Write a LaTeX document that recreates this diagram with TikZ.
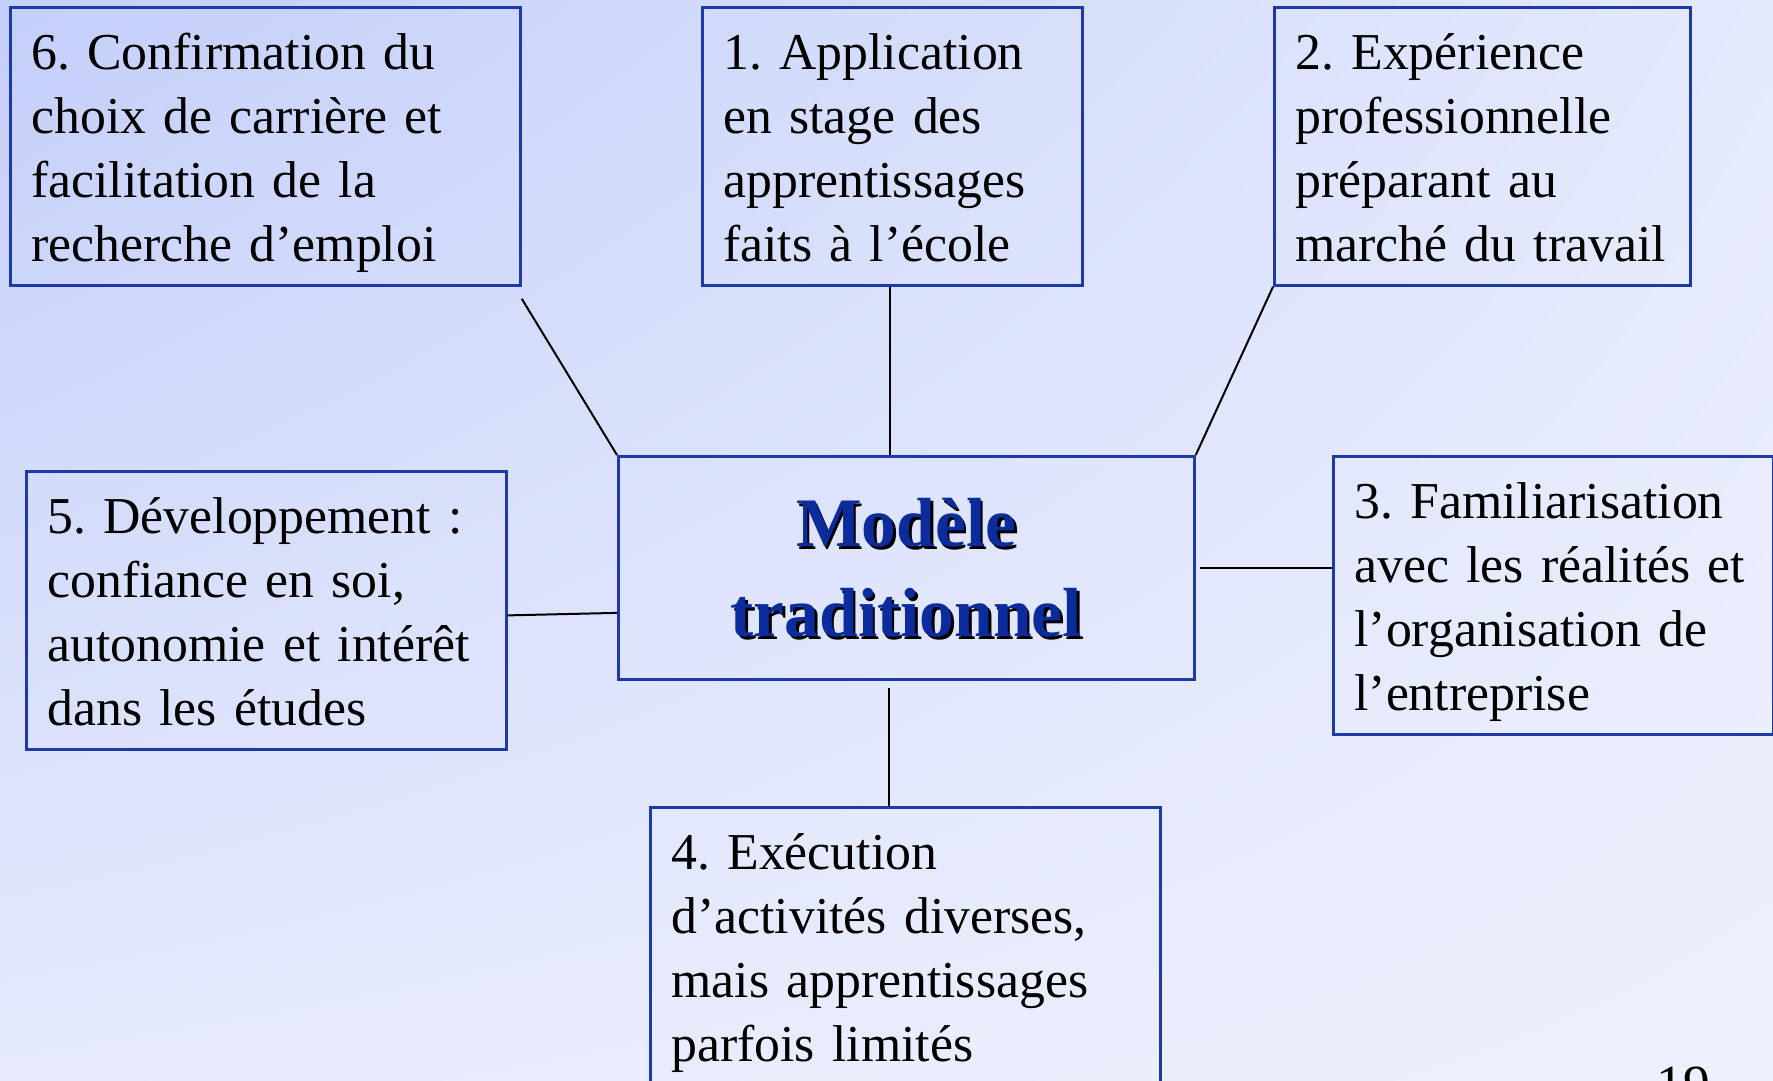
\documentclass[tikz,border=0pt]{standalone}
\usepackage{fontspec}
\setmainfont{Liberation Serif}
\usetikzlibrary{calc,shadings}
\definecolor{bgtl}{RGB}{196,207,250}
\definecolor{bgtr}{RGB}{228,233,252}
\definecolor{bgbl}{RGB}{230,234,252}
\definecolor{bgbr}{RGB}{237,240,253}
\definecolor{boxline}{RGB}{30,58,168}
\definecolor{titleblue}{RGB}{12,44,158}
\frenchspacing
\hyphenpenalty=10000
\exhyphenpenalty=10000
\newcommand{\topst}{\rule{0pt}{21pt}}
\newcommand{\botst}{\rule[-6pt]{0pt}{6pt}}
\tikzset{
  px/.style={x=0.4pt,y=-0.4pt},
  itembox/.style={draw=boxline,line width=1.1pt,anchor=north west,align=left,
    inner xsep=8.4pt,inner ysep=0pt,minimum height=111.2pt,
    font=\fontsize{20.7pt}{25.6pt}\selectfont},
  centerbox/.style={draw=boxline,line width=1.1pt,anchor=north west,
    minimum width=230.4pt,minimum height=89.2pt,inner sep=0pt},
  titletext/.style={align=center,inner sep=0pt,
    font=\fontsize{27.8pt}{36pt}\selectfont\bfseries},
  conn/.style={draw=black,line width=0.8pt}
}
\begin{document}
\begin{tikzpicture}[px]
\useasboundingbox (0,0) rectangle (1773,1080);
\shade[upper left=bgtl,upper right=bgtr,lower left=bgbl,lower right=bgbr] (0,0) rectangle (1773,1080);
% boxes
\node[itembox,text width=187.2pt] (b6) at (9,6) {\topst 6. Confirmation du\\choix de carrière et\\facilitation de la\\recherche d’emploi\botst};
\node[itembox,text width=135.2pt] (b1) at (701,6) {\topst 1. Application\\en stage des\\apprentissages\\faits à l’école\botst};
\node[itembox,text width=149.6pt] (b2) at (1273,6) {\topst 2. Expérience\\professionnelle\\préparant au\\marché du travail\botst};
\node[itembox,text width=175.2pt] (b5) at (25,470) {\topst 5. Développement :\\confiance en soi,\\autonomie et intérêt\\dans les études\botst};
\node[itembox,text width=159.2pt] (b3) at (1332,455) {\topst 3. Familiarisation\\avec les réalités et\\l’organisation de\\l’entreprise\botst};
\node[itembox,text width=187.2pt] (b4) at (649,806) {\topst 4. Exécution\\d’activités diverses,\\mais apprentissages\\parfois limités\botst};
% center
\node[centerbox] (c) at (617,455) {};
\node[titletext,text=black] (cs) at ($(c.center)+(2.5,2.5)$) {Modèle\\traditionnel};
\node[titletext,text=titleblue] (ct) at (c.center) {Modèle\\traditionnel};
% connectors
\coordinate (p6) at ($(b6.south east)+(0,12)$);
\draw[conn] (p6) -- (c.north west);
\coordinate (p1) at ($(b1.south)+(-2,0)$);
\draw[conn] (p1) -- (p1 |- c.north);
\draw[conn] (b2.south west) -- (c.north east);
\coordinate (p5) at ($(b5.east)+(0,5)$);
\coordinate (q5) at ($(c.west)+(0,45)$);
\draw[conn] (p5) -- (q5);
\coordinate (p3) at ($(c.east)+(4,0)$);
\draw[conn] (p3) -- (p3 -| b3.west);
\coordinate (p4) at ($(c.south)+(-17,7)$);
\draw[conn] (p4) -- (p4 |- b4.north);
% page number
\node[anchor=north,inner sep=0pt,font=\fontsize{21.5pt}{25.6pt}\selectfont] (pg) at (1683,1066) {19};
\end{tikzpicture}
\end{document}
